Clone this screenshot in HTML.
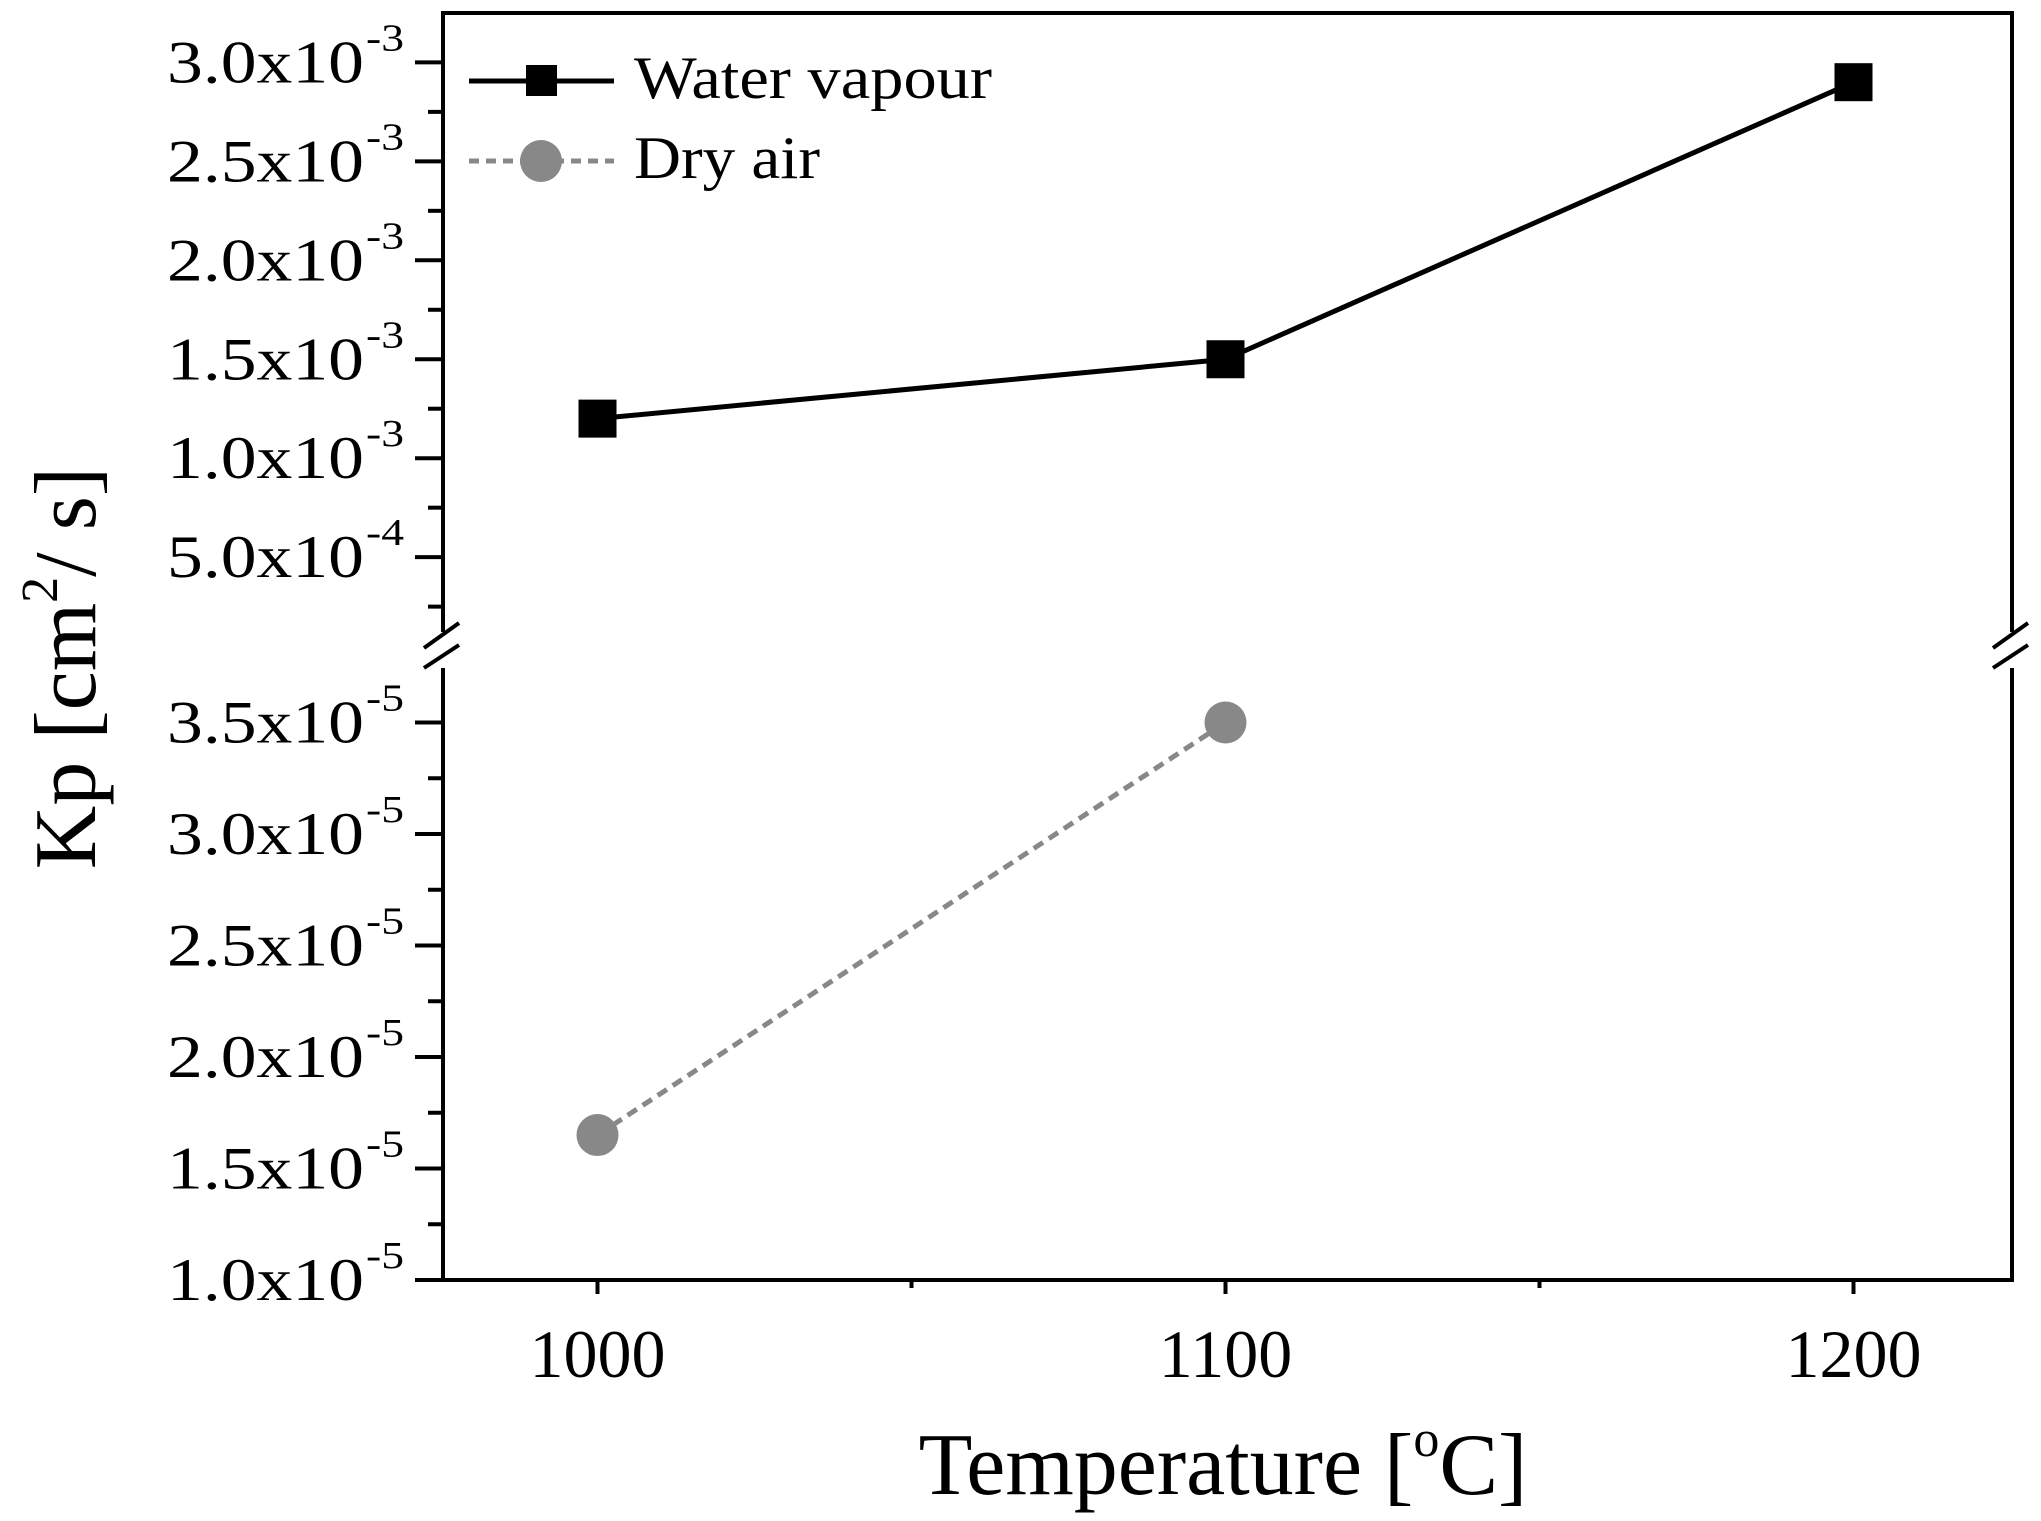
<!DOCTYPE html>
<html><head><meta charset="utf-8"><style>
html,body{margin:0;padding:0;background:#fff;}
svg{display:block;}
text{font-family:"Liberation Serif","DejaVu Serif",serif;fill:#000;}
</style></head>
<body>
<svg id="chart" width="2041" height="1521" viewBox="0 0 2041 1521" xmlns="http://www.w3.org/2000/svg">
<g id="axes"></g>
<g id="series"></g>
<g>
  <line x1="469" y1="81" x2="614" y2="81" stroke="#000" stroke-width="5"/>
  <rect x="526" y="65" width="31" height="31" fill="#000"/>
  <text x="634" y="98" font-size="60" textLength="358" lengthAdjust="spacingAndGlyphs">Water vapour</text>
  <line x1="469" y1="161" x2="614" y2="161" stroke="#888" stroke-width="5" stroke-dasharray="10,7"/>
  <circle cx="541" cy="161" r="21" fill="#888"/>
  <text x="634" y="178" font-size="60" textLength="186" lengthAdjust="spacingAndGlyphs">Dry air</text>
</g>
<text x="1223" y="1494" font-size="88" text-anchor="middle">Temperature [<tspan font-size="52" dy="-38">o</tspan><tspan dy="38">C]</tspan></text>
<text transform="translate(95,668) rotate(-90)" font-size="88" text-anchor="middle">Kp [cm<tspan font-size="52" dy="-38">2</tspan><tspan dy="38">/ s]</tspan></text>
</svg>
<script>
// data
const temps = [1000, 1100, 1200];
const waterVapour = [1.2e-3, 1.5e-3, 2.9e-3];
const dryAirTemps = [1000, 1100];
const dryAir = [1.65e-5, 3.5e-5];
const xTicks = [1000, 1100, 1200];
const xMinorTicks = [1050, 1150];
const upperTicks = [5.0e-4, 1.0e-3, 1.5e-3, 2.0e-3, 2.5e-3, 3.0e-3];
const upperTickLabels = [["5.0x10","-4"],["1.0x10","-3"],["1.5x10","-3"],["2.0x10","-3"],["2.5x10","-3"],["3.0x10","-3"]];
const upperMinor = [2.5e-4, 7.5e-4, 1.25e-3, 1.75e-3, 2.25e-3, 2.75e-3];
const lowerTicks = [1.0e-5, 1.5e-5, 2.0e-5, 2.5e-5, 3.0e-5, 3.5e-5];
const lowerTickLabels = [["1.0x10","-5"],["1.5x10","-5"],["2.0x10","-5"],["2.5x10","-5"],["3.0x10","-5"],["3.5x10","-5"]];
const lowerMinor = [1.25e-5, 1.75e-5, 2.25e-5, 2.75e-5, 3.25e-5];

const NS = "http://www.w3.org/2000/svg";
const L = 443, R = 2012, T = 13, B = 1280;
function xs(t){ return 597.5 + (t - 1000) * 6.28; }
function yUpper(v){ return 458.2 - (v - 1.0e-3) * 197900; }
function yLower(v){ return 1280 - (v - 1.0e-5) * 22300000; }
function mk(tag, attrs, parent){
  const e = document.createElementNS(NS, tag);
  for (const k in attrs) e.setAttribute(k, attrs[k]);
  parent.appendChild(e);
  return e;
}
const axes = document.getElementById('axes');
const series = document.getElementById('series');
const S = {stroke:"#000","stroke-width":4,fill:"none"};

let p = mk('path', Object.assign({d:`M${L},632 L${L},${T} L${R},${T} L${R},632 M${L},668 L${L},${B} L${R},${B} L${R},668`}, S), axes);


[L, R].forEach(x => {
  let b = mk('path', Object.assign({d:`M${x-19},648 L${x+16},623 M${x-19},668 L${x+16},645`}, S), axes);
  
  
});

function yTick(y, len){
  let t = mk('line', {x1:L-len, y1:y, x2:L, y2:y, stroke:"#000","stroke-width":4}, axes);
  
  
}
function yLabel(y, lab){
  let t = mk('text', {x:364, y:y+20, "font-size":60, "text-anchor":"end", textLength:197, lengthAdjust:"spacingAndGlyphs"}, axes);
  t.textContent = lab[0];
  
  
  let s = mk('text', {x:366, y:y-12, "font-size":38, textLength:38, lengthAdjust:"spacingAndGlyphs"}, axes);
  s.textContent = lab[1];
  
  
}
upperTicks.forEach((v,i) => { yTick(yUpper(v), 28); yLabel(yUpper(v), upperTickLabels[i]); });
upperMinor.forEach(v => yTick(yUpper(v), 15));
lowerTicks.forEach((v,i) => { yTick(yLower(v), 28); yLabel(yLower(v), lowerTickLabels[i]); });
lowerMinor.forEach(v => yTick(yLower(v), 15));

xTicks.forEach(t => {
  let l = mk('line', {x1:xs(t), y1:B, x2:xs(t), y2:B+14, stroke:"#000","stroke-width":4}, axes);
  
  
  let tx = mk('text', {x:xs(t), y:1377, "font-size":68, "text-anchor":"middle"}, axes);
  tx.textContent = String(t);
  
  
});
xMinorTicks.forEach(t => {
  let l = mk('line', {x1:xs(t), y1:B, x2:xs(t), y2:B+8, stroke:"#000","stroke-width":4}, axes);
  
  
});

let dpts = dryAirTemps.map((t,i) => `${xs(t)},${yLower(dryAir[i])}`).join(' ');
let dl = mk('polyline', {points:dpts, fill:"none", stroke:"#888","stroke-width":5,"stroke-dasharray":"11,7"}, series);


dryAirTemps.forEach((t,i) => {
  let c = mk('circle', {cx:xs(t), cy:yLower(dryAir[i]), r:21, fill:"#888"}, series);
  
  
});

let wpts = temps.map((t,i) => `${xs(t)},${yUpper(waterVapour[i])}`).join(' ');
let wl = mk('polyline', {points:wpts, fill:"none", stroke:"#000","stroke-width":5}, series);


temps.forEach((t,i) => {
  let r = mk('rect', {x:xs(t)-19, y:yUpper(waterVapour[i])-19, width:38, height:38, fill:"#000"}, series);
  
  
});
</script>
</body></html>
